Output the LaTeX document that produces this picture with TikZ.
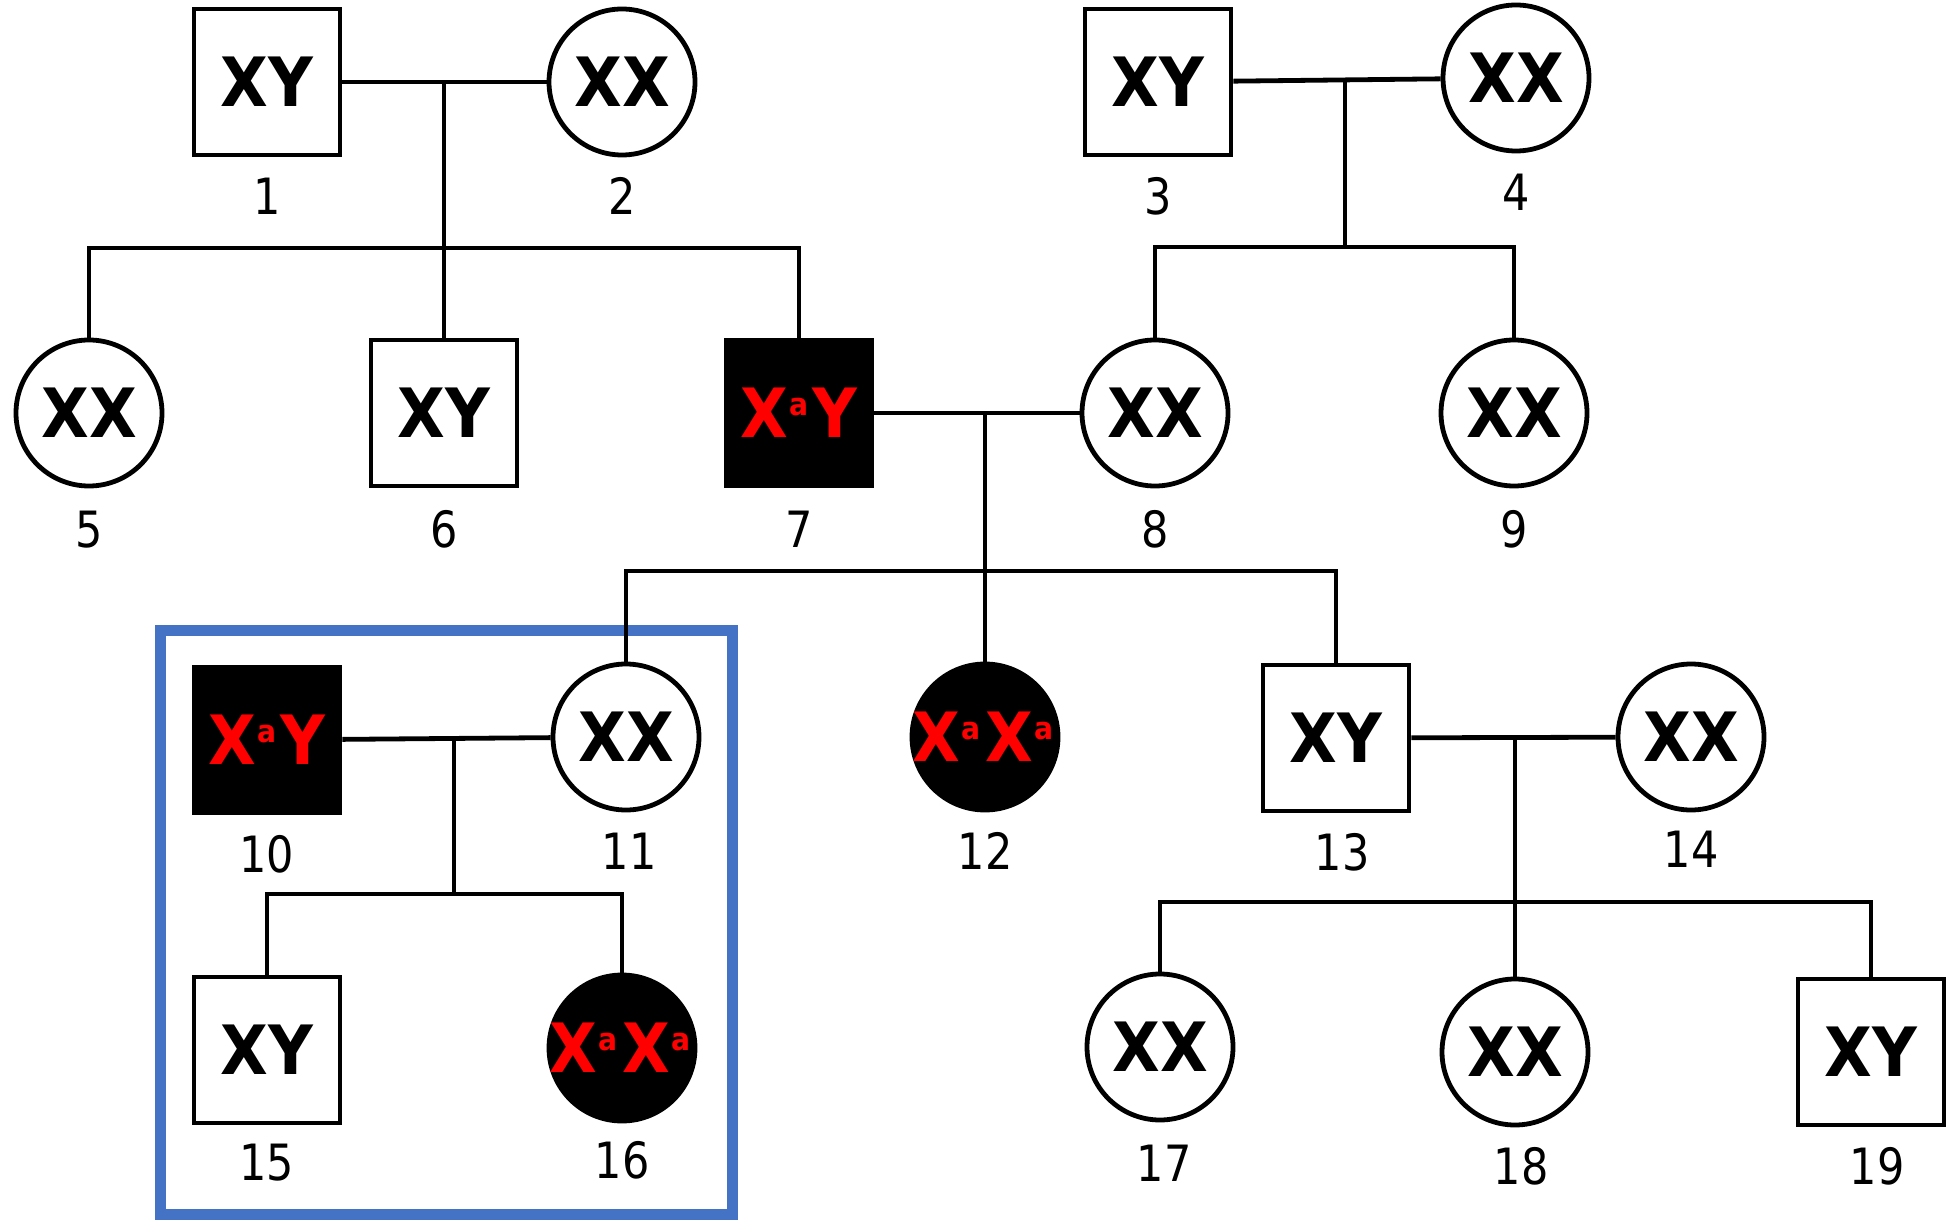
\documentclass[tikz,border=0pt]{standalone}
\usepackage{fontspec}
\usepackage{tikz}
\usetikzlibrary{backgrounds}
\usetikzlibrary{fit}
\usetikzlibrary{positioning}
\definecolor{boxblue}{RGB}{68,114,196}
\newfontfamily\genofont[FakeStretch=0.91]{DejaVu Sans}
\newfontfamily\numfont[FakeStretch=0.86]{DejaVu Sans}
\newcommand{\xa}{X\kern1pt\raisebox{11pt}{\fontsize{15.5}{15.5}\selectfont a}\kern2pt}

\begin{document}
\begin{tikzpicture}[
            x = 0.5pt, y = -0.5pt, % pixel grid, y goes down
            line width = 2.4pt, % line style
            male/.style = {draw, rectangle, minimum size = 73pt, inner sep = 0pt,
                fill = white, font = \genofont\bfseries\fontsize{34}{34}\selectfont},
            female/.style = {male, circle},
            affected/.style = {fill = black, text = red},
            num/.style = {inner sep = 0pt, font = \numfont\fontsize{25}{25}\selectfont}
            ]

        \useasboundingbox (0,0) rectangle (1957,1224);

        % generation I
        \node[male] (p1) at (267,82) {XY};
        \node[female] (p2) at (622,82) {XX};
        \node[male] (p3) at (1158,82) {XY};
        \node[female] (p4) at (1516,78) {XX};

        % generation II
        \node[female] (p5) at (89,413) {XX};
        \node[male] (p6) at (444,413) {XY};
        \node[male, affected] (p7) at (799,413) {\xa Y};
        \node[female] (p8) at (1155,413) {XX};
        \node[female] (p9) at (1514,413) {XX};

        % generation III
        \node[male, affected] (p10) at (267,740) {\xa Y};
        \node[female] (p11) at (626,737) {XX};
        \node[female, affected] (p12) at (985,737) {\makebox[0pt]{\xa\xa}};
        \node[male] (p13) at (1336,738) {XY};
        \node[female] (p14) at (1691,737) {XX};

        % generation IV
        \node[male] (p15) at (267,1050) {XY};
        \node[female, affected] (p16) at (622,1048) {\makebox[0pt]{\xa\xa}};
        \node[female] (p17) at (1160,1047) {XX};
        \node[female] (p18) at (1515,1052) {XX};
        \node[male] (p19) at (1871,1052) {XY};

        % numbers
        \node[num] (n1) [below=9pt of p1] {1};
        \node[num] (n2) [below=9pt of p2] {2};
        \node[num] (n3) [below=9pt of p3] {3};
        \node[num] (n4) [below=9pt of p4] {4};
        \node[num] (n5) [below=10pt of p5] {5};
        \node[num] (n6) [below=10pt of p6] {6};
        \node[num] (n7) [below=10pt of p7] {7};
        \node[num] (n8) [below=10pt of p8] {8};
        \node[num] (n9) [below=10pt of p9] {9};
        \node[num] (n10) [below=9pt of p10] {10};
        \node[num] (n11) [below=9pt of p11, xshift=1.5pt] {11};
        \node[num] (n12) [below=9pt of p12] {12};
        \node[num] (n13) [below=9pt of p13, xshift=3pt] {13};
        \node[num] (n14) [below=8pt of p14] {14};
        \node[num] (n15) [below=8pt of p15] {15};
        \node[num] (n16) [below=8pt of p16] {16};
        \node[num] (n17) [below=10pt of p17, xshift=2pt] {17};
        \node[num] (n18) [below=9pt of p18, xshift=3pt] {18};
        \node[num] (n19) [below=9pt of p19, xshift=3pt] {19};

        % couples
        \draw (p1) -- (p2);
        \draw (p3) -- (p4);
        \draw (p7) -- (p8);
        \draw (p10) -- (p11);
        \draw (p13) -- (p14);

        % children of 1 and 2
        \coordinate (m12) at (444,82);
        \coordinate (s12) at (444,248);
        \draw (m12) -- (p6);
        \draw (p5) |- (s12) -| (p7);

        % children of 3 and 4
        \coordinate (m34) at (1345,80);
        \coordinate (s34) at (1345,247);
        \draw (m34) -- (s34);
        \draw (p8) |- (s34) -| (p9);

        % children of 7 and 8
        \coordinate (m78) at (985,413);
        \coordinate (s78) at (985,571);
        \draw (m78) -- (p12);
        \draw (p11) |- (s78) -| (p13);

        % children of 10 and 11
        \coordinate (m1011) at (454,739);
        \coordinate (s1011) at (454,894);
        \draw (m1011) -- (s1011);
        \draw (p15) |- (s1011) -| (p16);

        % children of 13 and 14
        \coordinate (m1314) at (1515,737);
        \coordinate (s1314) at (1515,902);
        \draw (m1314) -- (p18);
        \draw (p17) |- (s1314) -| (p19);

        \begin{scope}[on background layer]
            \node (fam) [fit=(p10) (p11) (n15) (n16), draw=boxblue, line width=5.5pt, inner sep=15.5pt] {};
        \end{scope}

\end{tikzpicture}
\end{document}
